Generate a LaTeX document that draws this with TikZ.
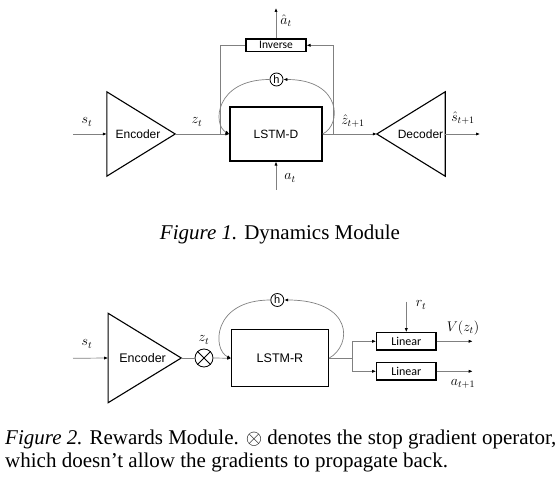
\RequirePackage{fix-cm}
\documentclass[tikz,border=0pt]{standalone}
\usepackage{fontspec}
\setmainfont{Liberation Serif}
\newfontfamily\arialf{Liberation Sans}
\newfontfamily\calf{Carlito}
\usetikzlibrary{arrows.meta,calc}
\begin{document}
\begin{tikzpicture}[x=1pt,y=-1pt,
  gl/.style={draw=black!50, line width=0.7pt},
  arr/.style={gl,-{Latex[length=4pt,width=3.2pt,black]}},
  box/.style={draw=black,line width=1.1pt,rectangle,inner sep=0pt},
  tri/.style={rectangle,inner sep=0pt},
  triline/.style={draw=black,line width=1.1pt,line join=miter},
  sans/.style={font=\arialf\fontsize{12}{14}\selectfont},
  sansb/.style={font=\arialf\fontsize{12.5}{14}\selectfont},
  cal/.style={font=\calf\fontsize{11.5}{13}\selectfont},
  ml/.style={font=\fontsize{14}{16}\selectfont, inner sep=0pt},
  hc/.style={circle,draw=black,line width=0.8pt,minimum size=13pt,inner sep=0pt,font=\arialf\fontsize{11}{12}\selectfont},
  captext/.style={font=\fontsize{21}{24}\selectfont, inner sep=0pt},
]
\useasboundingbox (0,0) rectangle (560,489);

% ---------------- Figure 1 ----------------
\node[tri, minimum width=68pt, minimum height=84pt] (enc1) at (141,134) {};
\draw[triline] (enc1.north west) -- (enc1.east) -- (enc1.south west) -- cycle;
\node[sans] (enc1t) at (138,134) {Encoder};

\node[box, minimum width=92pt, minimum height=54pt, sans] (lstm1) at (276,134) {LSTM-D};
\node[box, minimum width=60pt, minimum height=12.5pt, cal] (inv) at (276,45.3) {Inverse};
\node[hc] (h1) at (276.5,79.5) {h};

\node[tri, minimum width=68pt, minimum height=84pt] (dec) at (411,134) {};
\draw[triline] (dec.west) -- (dec.north east) -- (dec.south east) -- cycle;
\node[sans] (dect) at (420.5,134) {Decoder};

\coordinate (s1in) at (73,134);
\coordinate (jl1) at (220,134);
\coordinate (jl1t) at (220,45.3);
\coordinate (jr1) at (333.3,134);
\coordinate (jr1t) at (333.3,45.3);
\coordinate (ahat) at (276,8);
\coordinate (atin) at (276,190);
\coordinate (sout) at (480,134);

\draw[arr] (s1in) -- (enc1.west);
\draw[arr] (enc1.east) -- (lstm1.west);
\draw[gl] (jl1) -- (jl1t) -- (inv.west);
\draw[arr] (jr1) -- (jr1t) -- (inv.east);
\draw[arr] (inv.north) -- (ahat);
\draw[arr] (atin) -- (lstm1.south);
\draw[arr] (lstm1.east) -- (dec.west);
\draw[arr] (dec.east) -- (sout);
\draw[arr] (lstm1.east) .. controls (342,125) and (342,79.5) .. (h1.east);
\draw[arr] (h1.west) .. controls (215,79.5) and (212,125) .. (lstm1.west);

\node[ml] (ls1) at (87,122) {$s_t$};
\node[ml] (lz1) at (197,122) {$z_t$};
\node[ml] (lat) at (290,178) {$a_t$};
\node[ml] (lahat) at (286,21) {$\hat a_t$};
\node[ml] (lzh) at (353,121) {$\hat z_{t+1}$};
\node[ml] (lsh) at (463,118) {$\hat s_{t+1}$};

\node[captext, anchor=base] (cap1) at (280,240) {\textit{Figure 1.} Dynamics Module};

% ---------------- Figure 2 ----------------
\node[tri, minimum width=72.7pt, minimum height=89pt] (enc2) at (144.7,358) {};
\draw[triline] (enc2.north west) -- (enc2.east) -- (enc2.south west) -- cycle;
\node[sansb] (enc2t) at (142.6,358) {Encoder};

\node[circle, draw=black, line width=0.8pt, minimum size=18pt, inner sep=0pt] (sg) at (204,358) {};
\draw[black, line width=0.8pt] (sg.north west) -- (sg.south east) (sg.north east) -- (sg.south west);

\node[box, minimum width=96.6pt, minimum height=56.7pt, sansb] (lstm2) at (280,358.3) {LSTM-R};
\node[hc] (h2) at (277.3,300) {h};

\node[box, minimum width=59.3pt, minimum height=17.3pt, font=\calf\fontsize{12}{13}\selectfont] (lin1) at (406.3,341.3) {Linear};
\node[box, minimum width=59.3pt, minimum height=17.3pt, font=\calf\fontsize{12}{13}\selectfont] (lin2) at (406.3,371.3) {Linear};

\coordinate (s2in) at (73,358.3);
\coordinate (j2) at (352.3,358.3);
\coordinate (j2a) at (352.3,341.3);
\coordinate (j2b) at (352.3,371.3);
\coordinate (rtin) at (406.3,301.7);
\coordinate (vout) at (472.7,341.3);
\coordinate (aout) at (472.7,371.3);

\draw[arr] (s2in) -- (enc2.west);
\draw[gl] (enc2.east) -- (sg.west);
\draw[arr] (sg.east) -- (lstm2.west);
\draw[gl] (lstm2.east) -- (j2);
\draw[gl] (j2a) -- (j2b);
\draw[arr] (j2a) -- (lin1.west);
\draw[arr] (j2b) -- (lin2.west);
\draw[arr] (rtin) -- (lin1.north);
\draw[arr] (lin1.east) -- (vout);
\draw[arr] (lin2.east) -- (aout);
\draw[arr] (lstm2.east) .. controls (353,345) and (353,300) .. (h2.east);
\draw[arr] (h2.west) .. controls (212,300) and (212,350) .. (lstm2.west);

\node[ml] (ls2) at (87,344) {$s_t$};
\node[ml] (lz2) at (204,340) {$z_t$};
\node[ml] (lrt) at (421,305) {$r_t$};
\node[ml] (lv) at (463,328) {$V(z_t)$};
\node[ml] (la2) at (463,384) {$a_{t+1}$};

\node[captext, anchor=base west] (cap2a) at (5,444) {\textit{Figure 2.} Rewards Module. $\otimes$ denotes the stop gradient operator,};
\node[captext, anchor=base west] (cap2b) at (5,467) {which doesn’t allow the gradients to propagate back.};
\end{tikzpicture}
\end{document}
